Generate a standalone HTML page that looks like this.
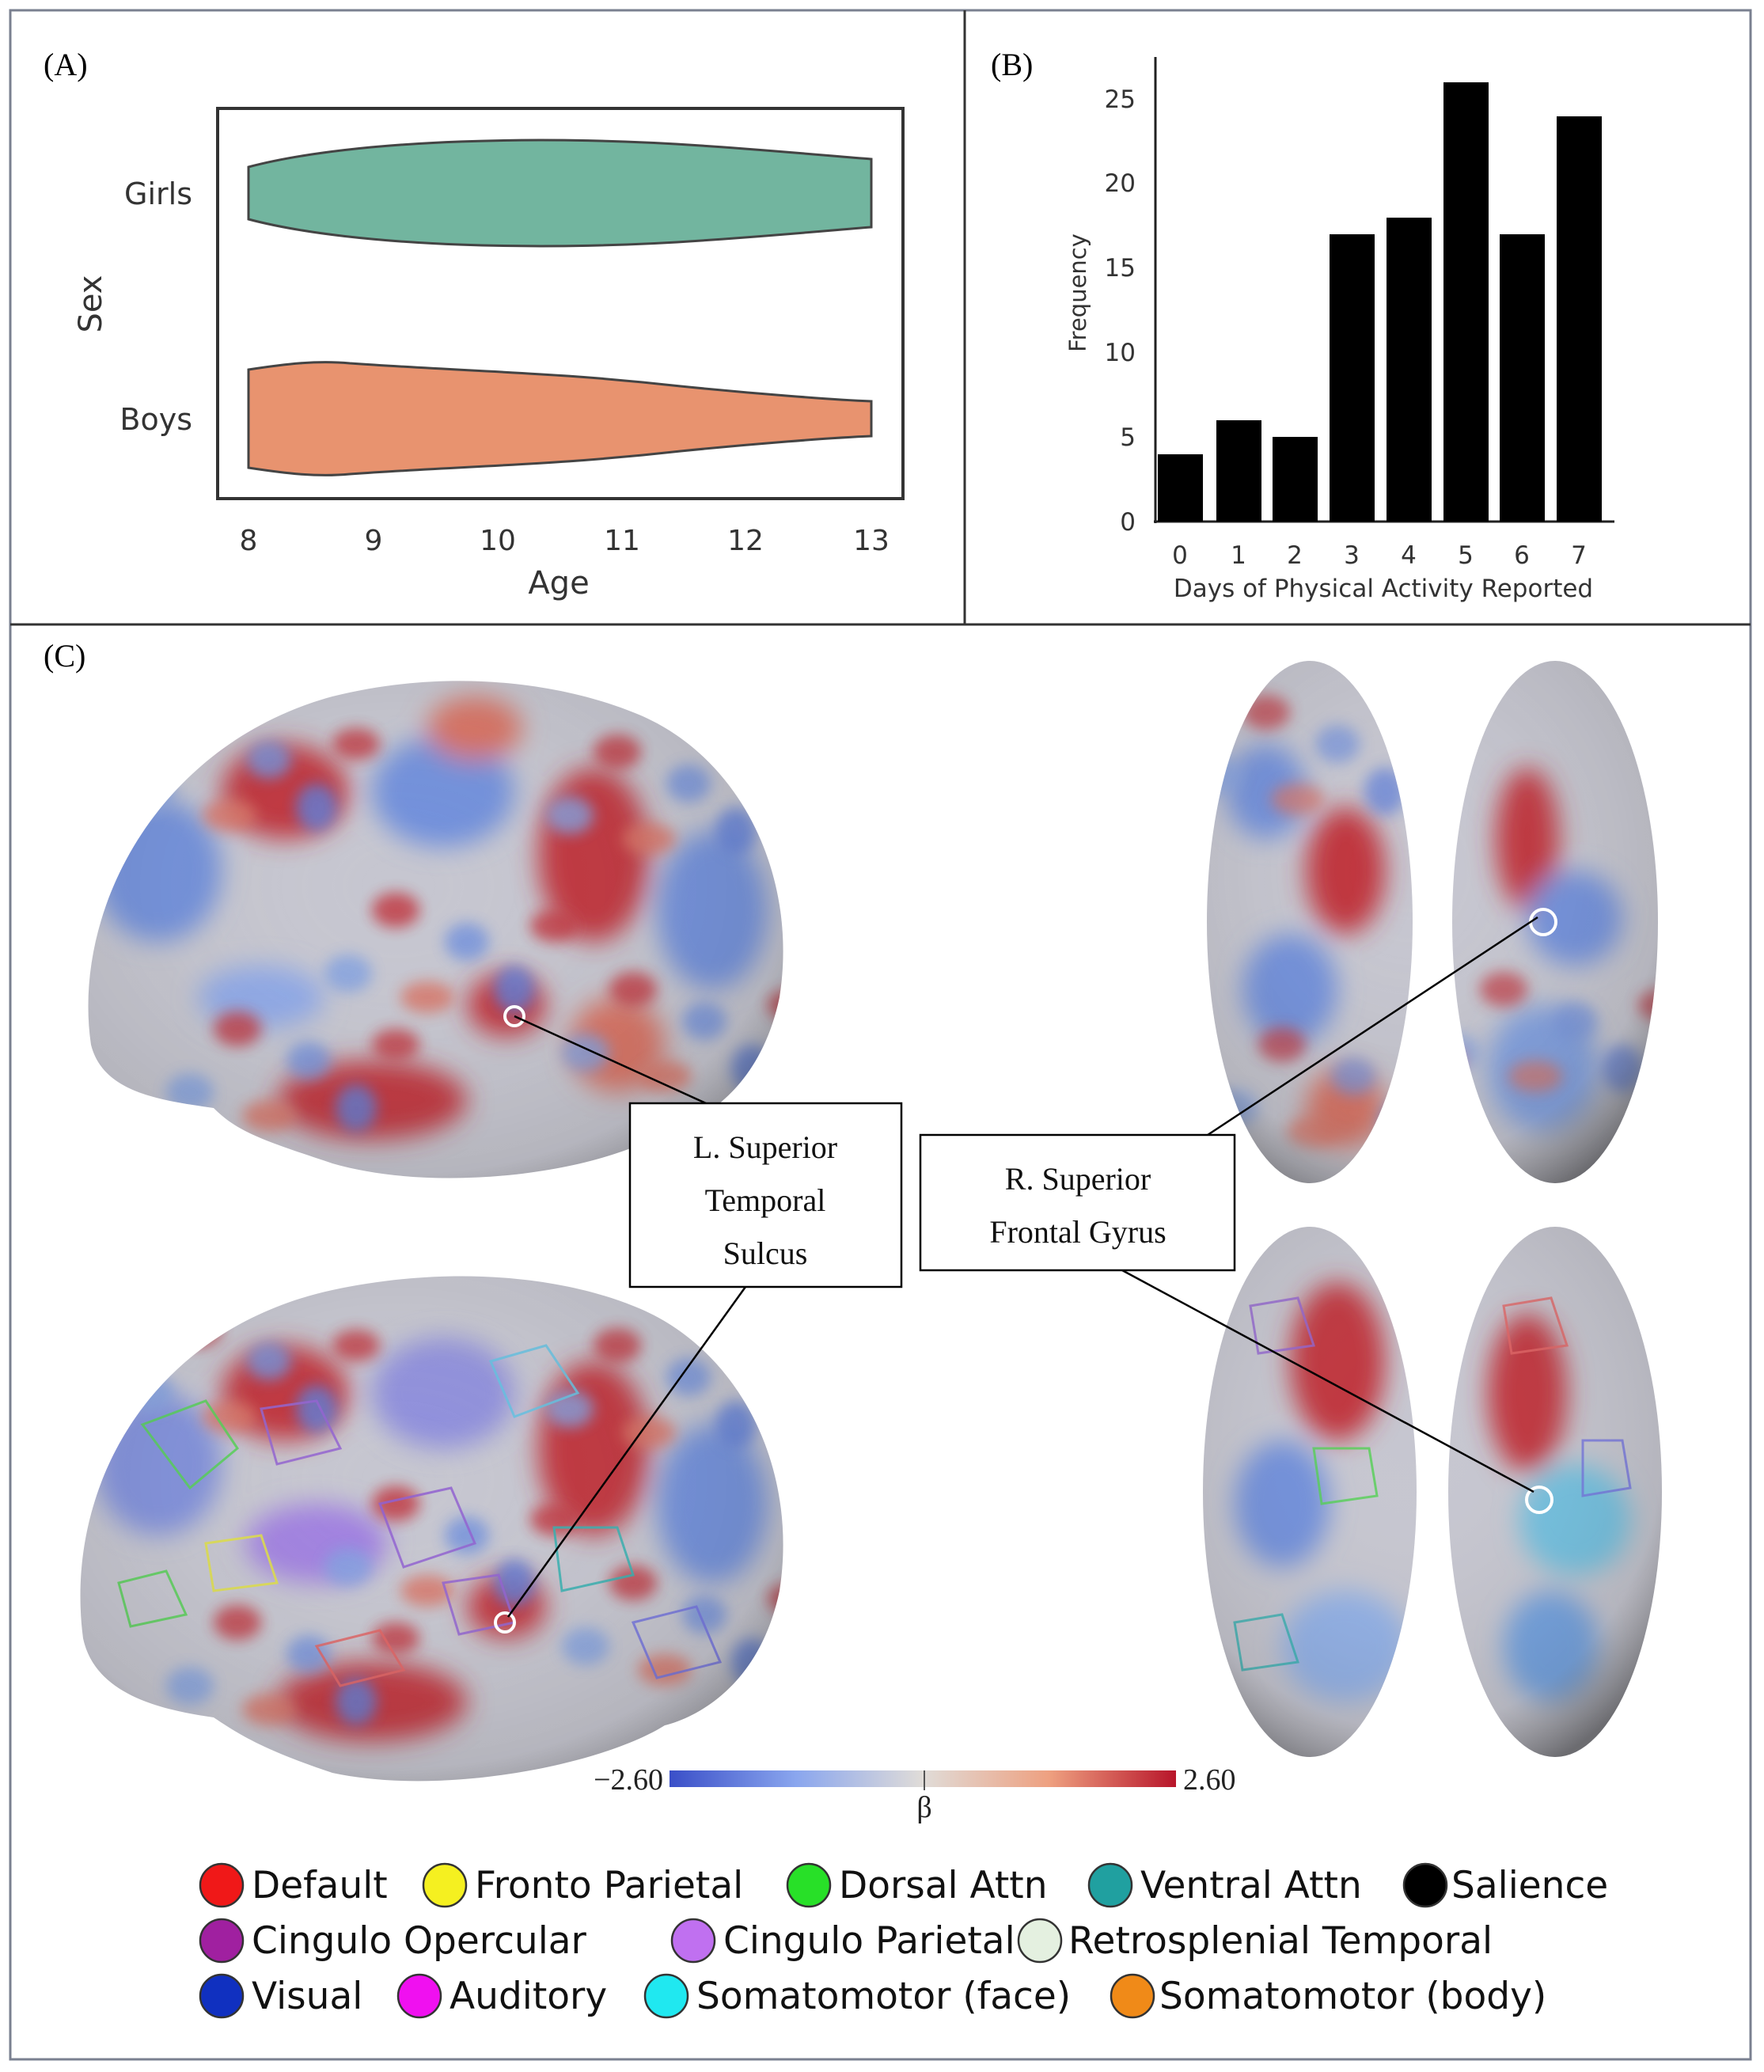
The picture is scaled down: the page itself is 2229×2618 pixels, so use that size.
<!DOCTYPE html>
<html><head><meta charset="utf-8"><style>html,body{margin:0;padding:0;background:#fff}svg{display:block}</style></head>
<body>
<svg width="2229" height="2618" viewBox="0 0 2229 2618" xmlns="http://www.w3.org/2000/svg" font-family="DejaVu Sans, Liberation Sans, sans-serif">
<defs>
<filter id="bl" x="-20%" y="-20%" width="140%" height="140%"><feGaussianBlur stdDeviation="16"/></filter>
<filter id="bl2" x="-20%" y="-20%" width="140%" height="140%"><feGaussianBlur stdDeviation="9"/></filter>
<radialGradient id="shade" cx="45%" cy="40%" r="65%"><stop offset="0" stop-color="#fff" stop-opacity="0"/><stop offset="0.8" stop-color="#555" stop-opacity="0.15"/><stop offset="1" stop-color="#222" stop-opacity="0.55"/></radialGradient>
<linearGradient id="cb" x1="0" x2="1"><stop offset="0" stop-color="#3a4fc8"/><stop offset="0.25" stop-color="#8aa6ee"/><stop offset="0.5" stop-color="#e0dcd8"/><stop offset="0.75" stop-color="#eea080"/><stop offset="1" stop-color="#b8152a"/></linearGradient>
<clipPath id="b1"><path d="M115,1320 C90,1150 200,940 420,880 C560,845 700,860 800,900 C930,950 1010,1100 985,1260 C960,1380 880,1420 840,1430 C760,1480 560,1510 420,1470 C330,1440 300,1430 270,1400 C200,1390 130,1380 115,1320Z"/></clipPath>
<clipPath id="b2"><path d="M105,2070 C80,1880 190,1680 420,1630 C560,1600 700,1610 800,1650 C930,1700 1010,1850 985,2010 C960,2130 880,2170 840,2180 C760,2230 560,2270 420,2240 C330,2210 300,2190 270,2170 C200,2160 120,2140 105,2070Z"/></clipPath>
<clipPath id="b3"><ellipse cx="1655" cy="1165" rx="130" ry="330"/><ellipse cx="1965" cy="1165" rx="130" ry="330"/></clipPath>
<clipPath id="b4"><ellipse cx="1655" cy="1885" rx="135" ry="335"/><ellipse cx="1965" cy="1885" rx="135" ry="335"/></clipPath>
<g id="tex">
<ellipse cx="0" cy="0" rx="30" ry="22" fill="#c0303a"/><ellipse cx="90" cy="40" rx="28" ry="24" fill="#6f8fdc"/><ellipse cx="40" cy="110" rx="34" ry="20" fill="#d87060"/><ellipse cx="150" cy="100" rx="26" ry="30" fill="#5a7ad8"/><ellipse cx="200" cy="20" rx="30" ry="20" fill="#c0303a"/><ellipse cx="-60" cy="80" rx="30" ry="24" fill="#7f9fe0"/>
</g>
</defs>
<rect width="2229" height="2618" fill="#fff"/>
<rect x="13" y="13" width="2199" height="2589" fill="none" stroke="#7a8090" stroke-width="3"/>
<line x1="1219" y1="13" x2="1219" y2="789" stroke="#333" stroke-width="3"/>
<line x1="13" y1="789" x2="2212" y2="789" stroke="#333" stroke-width="3"/>

<!-- Panel A -->
<text x="55" y="95" font-family="Liberation Serif, serif" font-size="40">(A)</text>
<rect x="275" y="137" width="866" height="493" fill="#fff" stroke="#333" stroke-width="4"/>
<path d="M314,211 C450,175 700,170 900,185 C1000,192 1060,198 1101,201 L1101,287 C1060,290 1000,296 900,303 C700,318 450,313 314,277Z" fill="#72b59f" stroke="#444" stroke-width="3"/>
<path d="M314,467 C360,460 400,455 442,459 C600,470 700,470 860,488 C950,497 1050,505 1101,507 L1101,551 C1050,553 950,561 860,570 C700,588 600,588 442,599 C400,603 360,598 314,591Z" fill="#e8936f" stroke="#444" stroke-width="3"/>
<g font-size="38" fill="#333" text-anchor="end"><text x="243" y="258">Girls</text><text x="243" y="543">Boys</text></g>
<text transform="translate(128,384) rotate(-90)" font-size="40" fill="#333" text-anchor="middle">Sex</text>
<g font-size="36" fill="#333" text-anchor="middle"><text x="314" y="695">8</text><text x="472" y="695">9</text><text x="629" y="695">10</text><text x="786" y="695">11</text><text x="942" y="695">12</text><text x="1101" y="695">13</text></g>
<text x="706" y="750" font-size="40" fill="#333" text-anchor="middle">Age</text>

<!-- Panel B -->
<text x="1252" y="95" font-family="Liberation Serif, serif" font-size="40">(B)</text>
<line x1="1460" y1="72" x2="1460" y2="661" stroke="#222" stroke-width="3"/>
<line x1="1458" y1="659" x2="2040" y2="659" stroke="#222" stroke-width="3"/>
<g font-size="31" fill="#333" text-anchor="end"><text x="1435" y="670">0</text><text x="1435" y="563">5</text><text x="1435" y="456">10</text><text x="1435" y="349">15</text><text x="1435" y="242">20</text><text x="1435" y="136">25</text></g>
<text transform="translate(1372,370) rotate(-90)" font-size="29" fill="#333" text-anchor="middle">Frequency</text>
<g fill="#000">
<rect x="1463" y="574" width="57" height="85"/><rect x="1537" y="531" width="57" height="128"/><rect x="1608" y="552" width="57" height="107"/><rect x="1680" y="296" width="57" height="363"/><rect x="1752" y="275" width="57" height="384"/><rect x="1824" y="104" width="57" height="555"/><rect x="1895" y="296" width="57" height="363"/><rect x="1967" y="147" width="57" height="512"/>
</g>
<g font-size="31" fill="#333" text-anchor="middle"><text x="1491" y="712">0</text><text x="1565" y="712">1</text><text x="1636" y="712">2</text><text x="1708" y="712">3</text><text x="1780" y="712">4</text><text x="1852" y="712">5</text><text x="1923" y="712">6</text><text x="1995" y="712">7</text></g>
<text x="1748" y="754" font-size="31" fill="#333" text-anchor="middle">Days of Physical Activity Reported</text>

<!-- Panel C -->
<text x="55" y="842" font-family="Liberation Serif, serif" font-size="40">(C)</text>

<g clip-path="url(#b1)">
<rect x="80" y="840" width="940" height="700" fill="#c6c6d0"/>
<g filter="url(#bl)">
<ellipse cx="360" cy="1000" rx="80" ry="60" fill="#c0303a"/><ellipse cx="750" cy="1080" rx="70" ry="110" fill="#c0303a"/><ellipse cx="470" cy="1390" rx="120" ry="50" fill="#c0303a"/>
<ellipse cx="640" cy="1270" rx="50" ry="40" fill="#c0303a"/><ellipse cx="200" cy="1100" rx="80" ry="90" fill="#6f8fdc"/><ellipse cx="560" cy="1000" rx="90" ry="70" fill="#6f8fdc"/><ellipse cx="900" cy="1150" rx="70" ry="100" fill="#6f8fdc"/><ellipse cx="330" cy="1260" rx="80" ry="40" fill="#8ea8e8"/><ellipse cx="600" cy="920" rx="60" ry="40" fill="#d87060"/><ellipse cx="780" cy="1320" rx="60" ry="60" fill="#d87060"/>
</g>
<g filter="url(#bl2)" opacity="0.8"><use href="#tex" x="250" y="920"/><use href="#tex" x="500" y="1150"/><use href="#tex" x="780" y="950"/><use href="#tex" x="300" y="1300"/><use href="#tex" x="800" y="1250"/></g>
<rect x="80" y="840" width="940" height="700" fill="url(#shade)"/>
</g>
<g clip-path="url(#b2)">
<rect x="80" y="1590" width="940" height="700" fill="#c6c6d0"/>
<g filter="url(#bl)">
<ellipse cx="360" cy="1760" rx="80" ry="60" fill="#c0303a"/><ellipse cx="750" cy="1830" rx="70" ry="110" fill="#c0303a"/><ellipse cx="470" cy="2150" rx="120" ry="50" fill="#c0303a"/>
<ellipse cx="640" cy="2030" rx="50" ry="40" fill="#c0303a"/><ellipse cx="200" cy="1850" rx="80" ry="90" fill="#7f8fdc"/><ellipse cx="560" cy="1760" rx="90" ry="70" fill="#8f8fdc"/><ellipse cx="900" cy="1900" rx="70" ry="100" fill="#6f8fdc"/><ellipse cx="400" cy="1950" rx="90" ry="50" fill="#a080e0"/>
</g>
<g filter="url(#bl2)" opacity="0.8"><use href="#tex" x="250" y="1680"/><use href="#tex" x="500" y="1900"/><use href="#tex" x="780" y="1700"/><use href="#tex" x="300" y="2050"/><use href="#tex" x="800" y="2000"/></g>
<g fill="none" stroke-width="3" opacity="0.85">
<path d="M180,1800 l80,-30 l40,60 l-60,50z" stroke="#50d050"/><path d="M480,1900 l90,-20 l30,70 l-90,30z" stroke="#9060d0"/><path d="M260,1950 l70,-10 l20,60 l-80,10z" stroke="#e0e040"/><path d="M700,1930 l80,0 l20,60 l-90,20z" stroke="#30b0b0"/><path d="M620,1720 l70,-20 l40,60 l-80,30z" stroke="#60c0e0"/><path d="M800,2050 l80,-20 l30,70 l-80,20z" stroke="#7070e0"/>
<path d="M330,1780 l70,-10 l30,60 l-80,20z" stroke="#9060d0"/><path d="M560,2000 l70,-10 l20,60 l-70,15z" stroke="#9060d0"/><path d="M150,2000 l60,-15 l25,55 l-70,15z" stroke="#50d050"/><path d="M400,2080 l80,-20 l30,50 l-80,20z" stroke="#e06060"/>
</g>
<rect x="80" y="1590" width="940" height="700" fill="url(#shade)"/>
</g>
<g clip-path="url(#b3)">
<rect x="1500" y="820" width="620" height="700" fill="#c6c6d0"/>
<g filter="url(#bl)">
<ellipse cx="1600" cy="1000" rx="50" ry="60" fill="#6f8fdc"/><ellipse cx="1700" cy="1100" rx="50" ry="80" fill="#c0303a"/><ellipse cx="1630" cy="1250" rx="60" ry="70" fill="#6f8fdc"/><ellipse cx="1930" cy="1060" rx="40" ry="90" fill="#c0303a"/><ellipse cx="1990" cy="1160" rx="60" ry="60" fill="#6f8fdc"/><ellipse cx="1950" cy="1350" rx="70" ry="80" fill="#7f9fe0"/><ellipse cx="1700" cy="1400" rx="50" ry="50" fill="#d87060"/>
</g>
<g filter="url(#bl2)" opacity="0.7"><use href="#tex" x="1600" y="900"/><use href="#tex" x="1900" y="1250"/><use href="#tex" x="1620" y="1320"/></g>
<rect x="1500" y="820" width="620" height="700" fill="url(#shade)"/>
</g>
<g clip-path="url(#b4)">
<rect x="1500" y="1540" width="620" height="700" fill="#c6c6d0"/>
<g filter="url(#bl)">
<ellipse cx="1690" cy="1720" rx="60" ry="100" fill="#c0303a"/><ellipse cx="1930" cy="1760" rx="50" ry="100" fill="#c0303a"/><ellipse cx="1620" cy="1900" rx="60" ry="80" fill="#6f8fdc"/><ellipse cx="1990" cy="1920" rx="70" ry="70" fill="#70c0e0"/><ellipse cx="1700" cy="2080" rx="80" ry="70" fill="#90b0e8"/><ellipse cx="1960" cy="2080" rx="60" ry="70" fill="#70a0e0"/>
</g>
<g fill="none" stroke-width="3" opacity="0.8"><path d="M1580,1650 l60,-10 l20,60 l-70,10z" stroke="#9060d0"/><path d="M1660,1830 l70,0 l10,60 l-70,10z" stroke="#50d050"/><path d="M1900,1650 l60,-10 l20,60 l-70,10z" stroke="#e06060"/><path d="M2000,1820 l50,0 l10,60 l-60,10z" stroke="#7070e0"/><path d="M1560,2050 l60,-10 l20,60 l-70,10z" stroke="#30b0b0"/></g>
<rect x="1500" y="1540" width="620" height="700" fill="url(#shade)"/>
</g>
<g fill="none" stroke="#fff" stroke-width="4"><circle cx="650" cy="1284" r="12"/><circle cx="638" cy="2050" r="12"/><circle cx="1950" cy="1165" r="16"/><circle cx="1945" cy="1895" r="16"/></g>

<g stroke="#000" stroke-width="2.5">
<line x1="650" y1="1284" x2="892" y2="1394"/><line x1="942" y1="1626" x2="642" y2="2043"/><line x1="1526" y1="1434" x2="1943" y2="1159"/><line x1="1418" y1="1605" x2="1938" y2="1885"/>
</g>
<rect x="796" y="1394" width="343" height="232" fill="#fff" stroke="#000" stroke-width="2.5"/>
<rect x="1163" y="1434" width="397" height="171" fill="#fff" stroke="#000" stroke-width="2.5"/>
<g font-family="Liberation Serif, serif" font-size="40" text-anchor="middle" fill="#111">
<text x="967" y="1463">L. Superior</text><text x="967" y="1530">Temporal</text><text x="967" y="1597">Sulcus</text>
<text x="1362" y="1503">R. Superior</text><text x="1362" y="1570">Frontal Gyrus</text>
</g>

<rect x="846" y="2237" width="640" height="21" fill="url(#cb)"/>
<line x1="1168" y1="2237" x2="1168" y2="2262" stroke="#555" stroke-width="2"/>
<g font-family="Liberation Serif, serif" font-size="38" fill="#222"><text x="838" y="2261" text-anchor="end">−2.60</text><text x="1495" y="2261">2.60</text><text x="1168" y="2296" text-anchor="middle">β</text></g>

<g stroke="#333" stroke-width="2.5">
<circle cx="280" cy="2382" r="27" fill="#f01818"/><circle cx="562" cy="2382" r="27" fill="#f5f020"/><circle cx="1022" cy="2382" r="27" fill="#28e028"/><circle cx="1403" cy="2382" r="27" fill="#20a0a0"/><circle cx="1801" cy="2382" r="27" fill="#000"/>
<circle cx="280" cy="2452" r="27" fill="#a020a0"/><circle cx="876" cy="2452" r="27" fill="#c070f0"/><circle cx="1314" cy="2452" r="27" fill="#e4f0e0"/>
<circle cx="280" cy="2522" r="27" fill="#1030c0"/><circle cx="530" cy="2522" r="27" fill="#f010f0"/><circle cx="842" cy="2522" r="27" fill="#20e8f0"/><circle cx="1431" cy="2522" r="27" fill="#f08a18"/>
</g>
<g font-size="47" fill="#111">
<text x="318" y="2398">Default</text><text x="600" y="2398">Fronto Parietal</text><text x="1060" y="2398">Dorsal Attn</text><text x="1441" y="2398">Ventral Attn</text><text x="1834" y="2398">Salience</text>
<text x="318" y="2468">Cingulo Opercular</text><text x="914" y="2468">Cingulo Parietal</text><text x="1350" y="2468">Retrosplenial Temporal</text>
<text x="318" y="2538">Visual</text><text x="568" y="2538">Auditory</text><text x="880" y="2538">Somatomotor (face)</text><text x="1465" y="2538">Somatomotor (body)</text>
</g>
</svg>
</body></html>
